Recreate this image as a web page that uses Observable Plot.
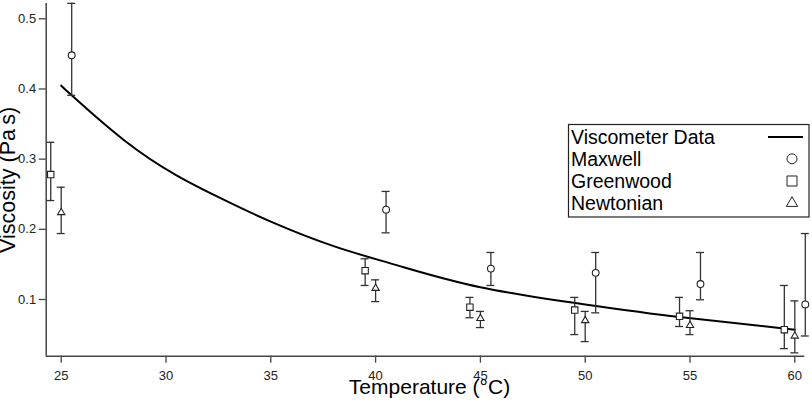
<!DOCTYPE html>
<html>
<head>
<meta charset="utf-8">
<script src="https://cdn.jsdelivr.net/npm/d3@7"></script>
<script src="https://cdn.jsdelivr.net/npm/@observablehq/plot@0.6"></script>
<style>
  html, body { margin: 0; padding: 0; background: #fff; }
  #chart { position: relative; width: 812px; height: 402px; overflow: hidden; }
</style>
</head>
<body>
<div id="chart"></div>
<script>
// Viscometer reference curve (temperature in °C, viscosity in Pa s)
const viscTemp = [25, 25.5, 28, 30.5, 32.7, 35, 38, 41, 45, 50, 54.5, 60];
const viscValue = [0.405, 0.391, 0.327, 0.277, 0.243, 0.211, 0.176, 0.149, 0.1175, 0.093, 0.075, 0.057];

// Maxwell model estimates with error ranges
const maxwellTemp = [25.5, 40.5, 45.5, 50.5, 55.5, 60.5];
const maxwellValue = [0.448, 0.228, 0.144, 0.138, 0.122, 0.093];
const maxwellLow = [0.391, 0.195, 0.120, 0.081, 0.0996, 0.048];
const maxwellHigh = [0.522, 0.254, 0.167, 0.167, 0.167, 0.194];

// Greenwood model estimates with error ranges
const greenwoodTemp = [24.5, 39.5, 44.5, 49.5, 54.5, 59.5];
const greenwoodValue = [0.278, 0.141, 0.089, 0.085, 0.076, 0.057];
const greenwoodLow = [0.241, 0.120, 0.074, 0.050, 0.0615, 0.030];
const greenwoodHigh = [0.324, 0.158, 0.103, 0.103, 0.103, 0.120];

// Newtonian model estimates with error ranges
const newtonianTemp = [25, 40, 45, 50, 55, 60];
const newtonianValue = [0.224, 0.116, 0.073, 0.070, 0.063, 0.048];
const newtonianLow = [0.194, 0.097, 0.060, 0.040, 0.050, 0.024];
const newtonianHigh = [0.260, 0.128, 0.083, 0.083, 0.084, 0.098];

// Axis ticks and labels
const xTicks = [25, 30, 35, 40, 45, 50, 55, 60];
const yTicks = [0.1, 0.2, 0.3, 0.4, 0.5];
const xDomain = [24.284, 60.477];
const yDomain = [0.0192, 0.5218];
const xLabel = "Temperature (°C)";
const yLabel = "Viscosity (Pa\u2009s)";
const legendLabels = ["Viscometer Data", "Maxwell", "Greenwood", "Newtonian"];

const FONT = "'Liberation Sans', Arial, Helvetica, sans-serif";
const INK = "#222";

const curve = viscTemp.map((t, i) => ({t, v: viscValue[i]}));
const series = (temps, vals, lo, hi) => temps.map((t, i) => ({t, v: vals[i], lo: lo[i], hi: hi[i]}));
const maxwell = series(maxwellTemp, maxwellValue, maxwellLow, maxwellHigh);
const greenwood = series(greenwoodTemp, greenwoodValue, greenwoodLow, greenwoodHigh);
const newtonian = series(newtonianTemp, newtonianValue, newtonianLow, newtonianHigh);

// Error bar: vertical rule plus two short caps
function errorBars(data) {
  return [
    Plot.ruleX(data, {x: "t", y1: "lo", y2: "hi", stroke: "#333", strokeWidth: 1.3}),
    Plot.ruleY(data, {x1: "t", x2: "t", y: "hi", insetLeft: -4, insetRight: -4, stroke: "#333", strokeWidth: 1.3}),
    Plot.ruleY(data, {x1: "t", x2: "t", y: "lo", insetLeft: -4, insetRight: -4, stroke: "#333", strokeWidth: 1.3})
  ];
}

const plot = Plot.plot({
  width: 812,
  height: 402,
  marginLeft: 45.7,
  marginRight: 7.7,
  marginTop: 3,
  marginBottom: 46.3,
  style: {fontFamily: FONT, fontSize: "13px", background: "#fff", color: INK, overflow: "visible"},
  x: {domain: xDomain},
  y: {domain: yDomain},
  marks: [
    Plot.axisX({ticks: xTicks, tickSize: 7, tickPadding: 8, tickFormat: d => String(d), label: null, fontSize: 13, stroke: "#444", strokeWidth: 1.3}),
    Plot.axisY({ticks: yTicks, tickSize: 7, tickPadding: 3, tickFormat: d3.format(".1f"), label: null, fontSize: 13, stroke: "#444", strokeWidth: 1.3}),
    Plot.ruleX([xDomain[0]], {stroke: "#444", strokeWidth: 1.5}),
    Plot.ruleY([yDomain[0]], {stroke: "#444", strokeWidth: 1.5}),
    Plot.line(curve, {x: "t", y: "v", curve: "natural", stroke: "#000", strokeWidth: 2}),
    ...errorBars(maxwell),
    ...errorBars(greenwood),
    ...errorBars(newtonian),
    Plot.dot(maxwell, {x: "t", y: "v", symbol: "circle", r: 3.4, fill: "#fff", stroke: INK, strokeWidth: 1.1}),
    Plot.dot(greenwood, {x: "t", y: "v", symbol: "square", r: 3.6, fill: "#fff", stroke: INK, strokeWidth: 1.1}),
    Plot.dot(newtonian, {x: "t", y: "v", symbol: "triangle", r: 2.7, fill: "#fff", stroke: INK, strokeWidth: 1.1}),
    Plot.text([yLabel], {frameAnchor: "left", rotate: -90, dx: -38.5, fontSize: 21.5, textAnchor: "middle", lineAnchor: "middle", fill: "#000"}),
    Plot.text([xLabel], {frameAnchor: "bottom", dx: 4, dy: 31, fontSize: 21, textAnchor: "middle", lineAnchor: "middle", fill: "#000"})
  ]
});

document.getElementById("chart").appendChild(plot);

// Legend box drawn inside the plot area, upper right
const svg = d3.select(plot);
const lg = svg.append("g")
  .attr("font-family", FONT).attr("font-size", 19.5)
  .attr("fill", "#000").attr("text-anchor", "start");
lg.append("rect")
  .attr("x", 568.5).attr("y", 124.5).attr("width", 240.5).attr("height", 92.5)
  .attr("fill", "#fff").attr("stroke", "#222").attr("stroke-width", 1.2);
const baselines = [143.5, 165.8, 188, 210.2];
legendLabels.forEach((name, i) => {
  lg.append("text").attr("x", 571).attr("y", baselines[i]).attr("text-anchor", "start").text(name);
});
lg.append("line")
  .attr("x1", 768).attr("x2", 803).attr("y1", baselines[0] - 6.5).attr("y2", baselines[0] - 6.5)
  .attr("stroke", "#000").attr("stroke-width", 2);
const legendSymbols = [d3.symbolCircle, d3.symbolSquare, d3.symbolTriangle];
const legendSizes = [78, 100, 55];
legendSymbols.forEach((sym, i) => {
  lg.append("path")
    .attr("d", d3.symbol(sym, legendSizes[i])())
    .attr("transform", `translate(792,${baselines[i + 1] - 7})`)
    .attr("fill", "#fff").attr("stroke", "#222").attr("stroke-width", 1);
});
</script>
</body>
</html>
